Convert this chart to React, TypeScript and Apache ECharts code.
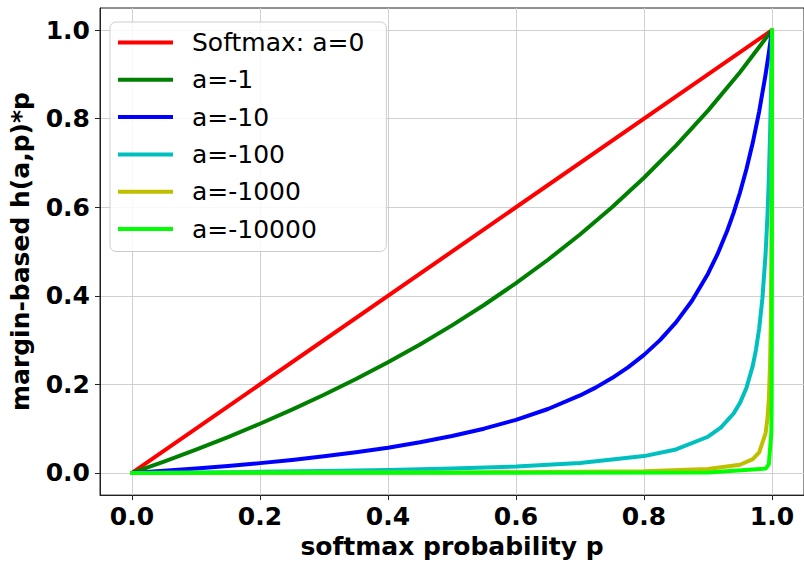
import React, { useEffect, useRef } from "react";
import * as echarts from "echarts";

const seriesNames = ["Softmax: a=0", "a=-1", "a=-10", "a=-100", "a=-1000", "a=-10000"];
const seriesColors = ["#ff0000", "#008000", "#0000ff", "#00bfbf", "#bfbf00", "#00ff00"];

const xTicks = [0, 0.2, 0.4, 0.6, 0.8, 1.0];
const yTicks = [0, 0.2, 0.4, 0.6, 0.8, 1.0];

const pA0 = [0, 1];
const yA0 = [0, 1];

const pA1 = [0, 0.05, 0.1, 0.15, 0.2, 0.25, 0.3, 0.35, 0.4, 0.45, 0.5, 0.55, 0.6, 0.65, 0.7, 0.75, 0.8, 0.85, 0.9, 0.95, 1.0];
const yA1 = [0, 0.0256, 0.0526, 0.0811, 0.1111, 0.1429, 0.1765, 0.2121, 0.25, 0.2903, 0.3333, 0.3793, 0.4286, 0.4815, 0.5385, 0.6, 0.6667, 0.7391, 0.8182, 0.9048, 1.0];

const pA10 = [0, 0.05, 0.1, 0.15, 0.2, 0.25, 0.3, 0.35, 0.4, 0.45, 0.5, 0.55, 0.6, 0.65, 0.7, 0.725, 0.75, 0.775, 0.8, 0.825, 0.85, 0.875, 0.9, 0.915, 0.93, 0.94, 0.95, 0.96, 0.97, 0.98, 0.99, 0.995, 1.0];
const yA10 = [0, 0.0048, 0.01, 0.0158, 0.0222, 0.0294, 0.0375, 0.0467, 0.0571, 0.0692, 0.0833, 0.1, 0.12, 0.1444, 0.175, 0.1933, 0.2143, 0.2385, 0.2667, 0.3, 0.34, 0.3889, 0.45, 0.4946, 0.547, 0.5875, 0.6333, 0.6857, 0.7462, 0.8167, 0.9, 0.9476, 1.0];

const pA100 = [0, 0.1, 0.2, 0.3, 0.4, 0.5, 0.6, 0.7, 0.8, 0.85, 0.9, 0.92, 0.94, 0.95, 0.96, 0.97, 0.975, 0.98, 0.985, 0.99, 0.993, 0.995, 0.997, 0.998, 0.999, 1.0];
const yA100 = [0, 0.0011, 0.0025, 0.0042, 0.0066, 0.0098, 0.0146, 0.0226, 0.0381, 0.0531, 0.0818, 0.1022, 0.1343, 0.1583, 0.192, 0.2425, 0.2786, 0.3267, 0.394, 0.495, 0.584, 0.6633, 0.767, 0.8317, 0.908, 1.0];

const pA1000 = [0, 0.5, 0.8, 0.9, 0.95, 0.97, 0.98, 0.99, 0.993, 0.995, 0.997, 0.998, 0.999, 0.9995, 1.0];
const yA1000 = [0, 0.001, 0.004, 0.0089, 0.0186, 0.0313, 0.0467, 0.09, 0.124, 0.166, 0.249, 0.333, 0.4995, 0.666, 1.0];

const pA10000 = [0, 0.9, 0.99, 0.995, 0.999, 0.9995, 0.9999, 1.0];
const yA10000 = [0, 0.0009, 0.0098, 0.0195, 0.0908, 0.1666, 0.5, 1.0];

const allP = [pA0, pA1, pA10, pA100, pA1000, pA10000];
const allY = [yA0, yA1, yA10, yA100, yA1000, yA10000];

const FONT = "DejaVu Sans";

export default function App() {
  const ref = useRef<HTMLDivElement>(null);
  useEffect(() => {
    document.body.style.margin = "0";
    const chart = echarts.init(ref.current!, null, { renderer: "svg" });
    const series = seriesNames.map((name, i) => ({
      name,
      type: "line",
      data: allP[i].map((p, j) => [p, allY[i][j]]),
      showSymbol: false,
      symbol: "none",
      smooth: false,
      lineStyle: { width: 4, color: seriesColors[i], join: "round", cap: "round" },
      itemStyle: { color: seriesColors[i] },
      clip: true,
    }));
    const axisCommon = {
      type: "value",
      min: -0.05,
      max: 1.05,
      splitNumber: 5,
      minInterval: 0.2,
      maxInterval: 0.2,
      axisLine: { show: true, onZero: false, lineStyle: { color: "#222", width: 1 } },
      axisTick: { show: true, length: 5, inside: false, lineStyle: { color: "#222", width: 1 } },
      splitLine: { show: true, lineStyle: { color: "#d0d0d0", width: 1 } },
    };
    chart.setOption({
      animation: false,
      backgroundColor: "#ffffff",
      grid: {
        left: 97,
        top: 8,
        width: 710,
        height: 491,
        show: true,
        borderColor: "#222",
        borderWidth: 1,
        backgroundColor: "transparent",
        containLabel: false,
      },
      legend: {
        show: true,
        orient: "vertical",
        left: 110,
        top: 22,
        data: seriesNames,
        icon: "rect",
        itemWidth: 55,
        itemHeight: 4,
        itemGap: 12.3,
        padding: [8, 22, 10, 8],
        borderColor: "#cccccc",
        borderWidth: 1,
        borderRadius: 6,
        backgroundColor: "rgba(255,255,255,0.85)",
        textStyle: {
          fontFamily: FONT,
          fontSize: 25,
          lineHeight: 25,
          color: "#000",
          padding: [0, 0, 0, 14],
        },
      },
      xAxis: {
        ...axisCommon,
        name: "softmax probability p",
        nameLocation: "middle",
        nameGap: 36,
        nameTextStyle: { fontFamily: FONT, fontSize: 25, fontWeight: "bold", color: "#000" },
        axisTick: { ...axisCommon.axisTick, customValues: xTicks },
        axisLabel: {
          customValues: xTicks,
          margin: 9,
          fontFamily: FONT,
          fontSize: 25,
          fontWeight: "bold",
          color: "#000",
          formatter: (v: number) => v.toFixed(1),
        },
      },
      yAxis: {
        ...axisCommon,
        name: "margin-based h(a,p)*p",
        nameLocation: "middle",
        nameRotate: 90,
        nameGap: 67,
        nameTextStyle: { fontFamily: FONT, fontSize: 25, fontWeight: "bold", color: "#000" },
        axisTick: { ...axisCommon.axisTick, customValues: yTicks },
        axisLabel: {
          customValues: yTicks,
          margin: 10,
          fontFamily: FONT,
          fontSize: 25,
          fontWeight: "bold",
          color: "#000",
          formatter: (v: number) => v.toFixed(1),
        },
      },
      series,
    });
    return () => chart.dispose();
  }, []);
  return <div ref={ref} style={{ width: 804, height: 564 }} />;
}
